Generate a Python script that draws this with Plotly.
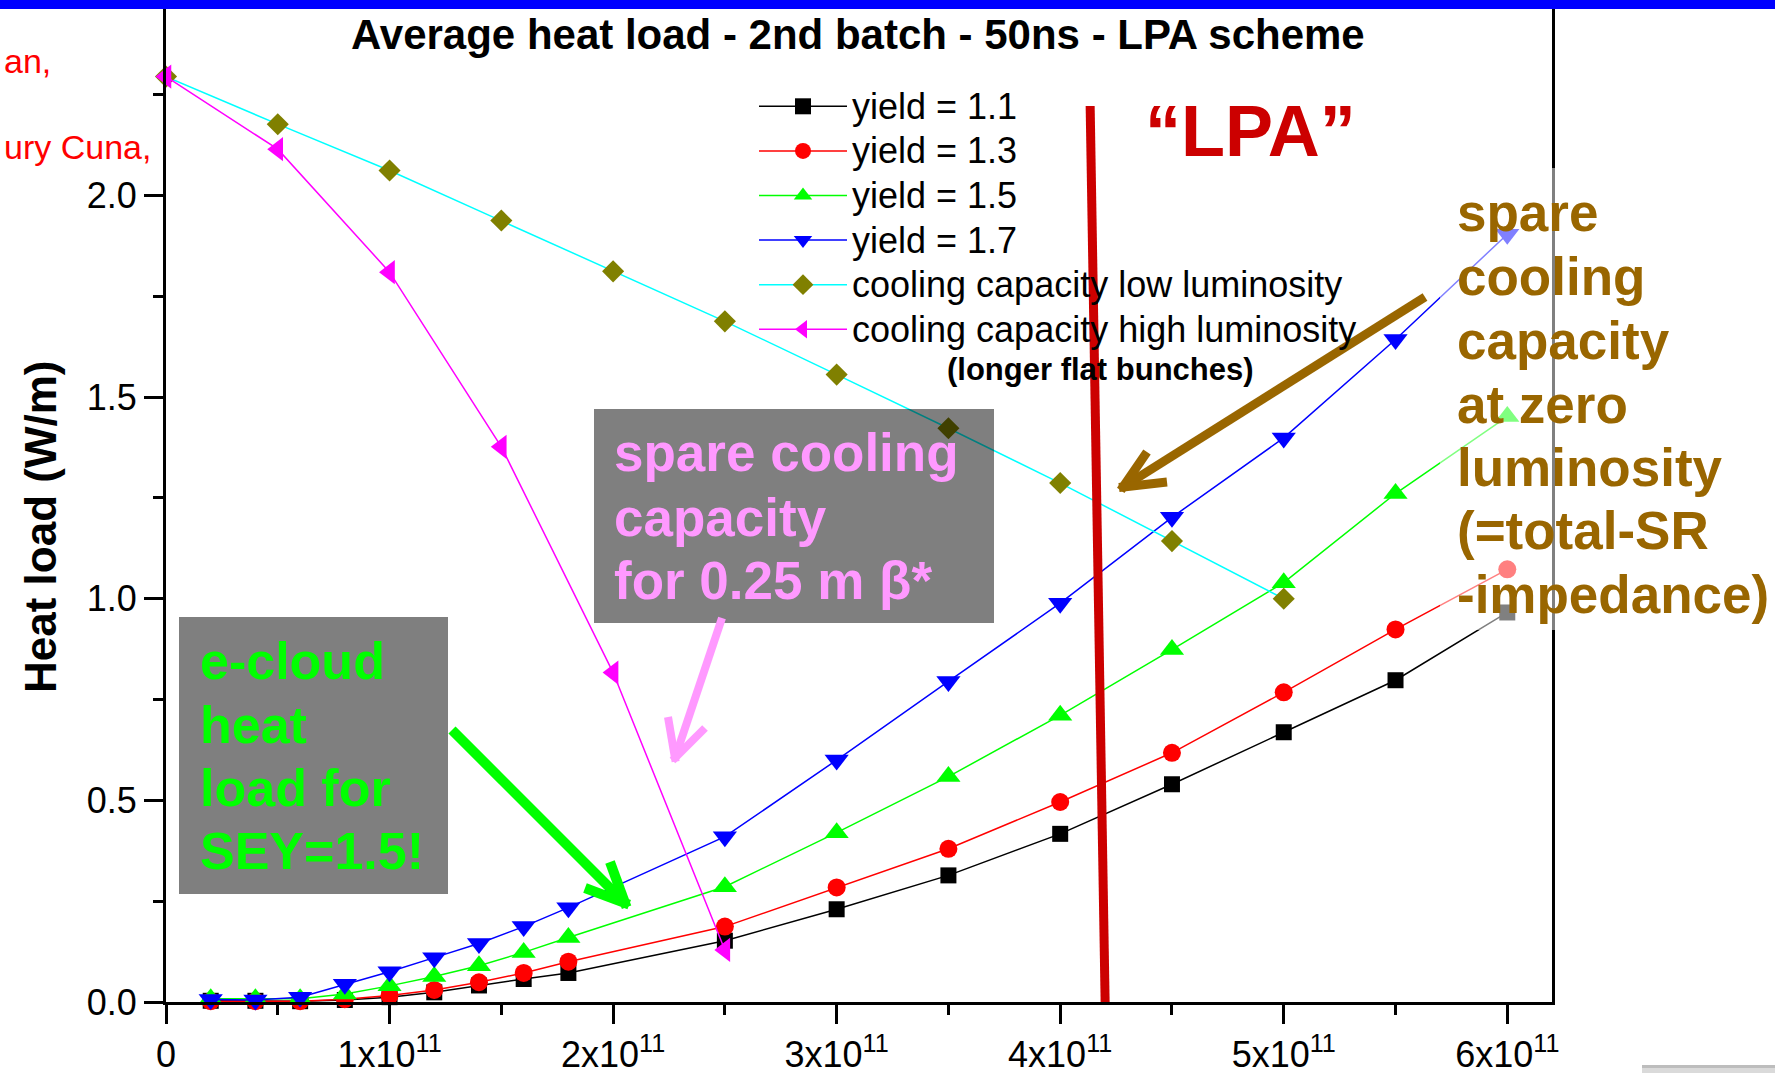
import plotly.graph_objects as go

# ---------------------------------------------------------------- data
# bunch intensity (protons per bunch) for the e-cloud simulations
bunch_intensity = [0.2e11, 0.4e11, 0.6e11, 0.8e11, 1.0e11, 1.2e11, 1.4e11, 1.6e11,
                   1.8e11, 2.5e11, 3.0e11, 3.5e11, 4.0e11, 4.5e11, 5.0e11, 5.5e11, 6.0e11]

# average heat load (W/m) for each secondary emission yield
heat_yield_11 = [0.003, 0.003, 0.002, 0.005, 0.012, 0.024, 0.041, 0.057, 0.072,
                 0.152, 0.230, 0.314, 0.417, 0.540, 0.669, 0.798, 0.966]
heat_yield_13 = [0.002, 0.002, 0.002, 0.007, 0.016, 0.030, 0.049, 0.072, 0.100,
                 0.187, 0.284, 0.380, 0.496, 0.618, 0.768, 0.924, 1.073]
heat_yield_15 = [0.008, 0.008, 0.008, 0.020, 0.040, 0.063, 0.090, 0.123, 0.160,
                 0.286, 0.420, 0.559, 0.711, 0.874, 1.040, 1.261, 1.452]
heat_yield_17 = [0.006, 0.005, 0.012, 0.044, 0.075, 0.110, 0.145, 0.187, 0.234,
                 0.410, 0.600, 0.795, 0.989, 1.202, 1.399, 1.643, 1.904]

# available cooling capacity (W/m)
cooling_intensity_low = [0.0, 0.5e11, 1.0e11, 1.5e11, 2.0e11, 2.5e11,
                         3.0e11, 3.5e11, 4.0e11, 4.5e11, 5.0e11]
cooling_low_lumi = [2.295, 2.177, 2.062, 1.938, 1.812, 1.688,
                    1.556, 1.423, 1.287, 1.143, 1.000]
cooling_intensity_high = [0.0, 0.5e11, 1.0e11, 1.5e11, 2.0e11, 2.5e11]
cooling_high_lumi = [2.295, 2.115, 1.810, 1.377, 0.817, 0.129]

# axis ticks
x_tick_vals = [0, 1e11, 2e11, 3e11, 4e11, 5e11, 6e11]
x_tick_text = ["0"] + [f"{k}x10<sup>11</sup>" for k in range(1, 7)]
x_minor_vals = [0.5e11, 1.5e11, 2.5e11, 3.5e11, 4.5e11, 5.5e11]
y_tick_vals = [0.0, 0.5, 1.0, 1.5, 2.0]
y_tick_text = ["0.0", "0.5", "1.0", "1.5", "2.0"]
y_minor_vals = [0.25, 0.75, 1.25, 1.75, 2.25]

# "LPA" operating point marker line (x in protons, y in W/m)
lpa_line_x = [4.134e11, 4.201e11]
lpa_line_y = [2.222, 0.0]

# ---------------------------------------------------------------- geometry
W, H = 1775, 1077
ML, MR, MT, MB = 166, 223, 2, 75
PW, PH = W - ML - MR, H - MT - MB
FONT = "Liberation Sans, Arial, sans-serif"


def xp(px):
    return (px - ML) / PW


def yp(py):
    return (H - MB - py) / PH


fig = go.Figure()

series = [
    ("yield = 1.1", bunch_intensity, heat_yield_11, "#000000", "#000000", "square", 16),
    ("yield = 1.3", bunch_intensity, heat_yield_13, "#FF0000", "#FF0000", "circle", 18),
    ("yield = 1.5", bunch_intensity, heat_yield_15, "#00FF00", "#00FF00", "triangle-up", 21),
    ("yield = 1.7", bunch_intensity, heat_yield_17, "#0000FF", "#0000FF", "triangle-down", 21),
    ("cooling capacity low luminosity", cooling_intensity_low, cooling_low_lumi,
     "#00FFFF", "#808000", "diamond", 17),
    ("cooling capacity high luminosity", cooling_intensity_high, cooling_high_lumi,
     "#FF00FF", "#FF00FF", "triangle-left", 21),
]
for name, xs, ys, lc, mc, sym, ms in series:
    fig.add_trace(go.Scatter(
        x=xs, y=ys, mode="lines+markers",
        name=f'<span style="font-size:36px">{name}</span>',
        line=dict(color=lc, width=1.5),
        marker=dict(symbol=sym, size=ms, color=mc, line=dict(width=0)),
        cliponaxis=False,
    ))

shapes = []
annotations = []


def rect(x0, y0, x1, y1, color, opacity=1.0):
    shapes.append(dict(type="rect", xref="paper", yref="paper",
                       x0=xp(x0), x1=xp(x1), y0=yp(y1), y1=yp(y0),
                       fillcolor=color, opacity=opacity, line=dict(width=0),
                       layer="above"))


def text(s, x, baseline, size, color, bold=False, anchor="left"):
    content = f"<b>{s}</b>" if bold else s
    annotations.append(dict(text=content, xref="paper", yref="paper",
                            x=xp(x), y=yp(baseline - 0.33 * size),
                            xanchor=anchor, yanchor="middle", showarrow=False,
                            font=dict(family=FONT, size=size, color=color)))


def segment(x0, y0, x1, y1, color, width):
    shapes.append(dict(type="line", xref="paper", yref="paper",
                       x0=xp(x0), y0=yp(y0), x1=xp(x1), y1=yp(y1),
                       line=dict(color=color, width=width), layer="above"))


def arrow(tail, tip, barbs, color, width):
    segment(tail[0], tail[1], tip[0], tip[1], color, width)
    for bx, by in barbs:
        dx, dy = tip[0] - bx, tip[1] - by
        n = (dx * dx + dy * dy) ** 0.5
        ex, ey = tip[0] + dx / n * width * 0.45, tip[1] + dy / n * width * 0.45
        segment(bx, by, ex, ey, color, width)


# blue header band
rect(-5, -8, W + 5, 9, "#0000FF")

# translucent dark boxes behind the call-outs
rect(179, 617, 448, 894, "#000000", 0.5)
rect(594, 409, 994, 623, "#000000", 0.5)
# translucent white panel behind the right-hand note
rect(1440, 168, W + 5, 630, "#FFFFFF", 0.5)

# small grey strip in the lower right corner
rect(1642, 1065, W + 5, 1068, "#BDBDBD")
rect(1642, 1068, W + 5, 1073, "#DADADA")

# title and axis title
text("Average heat load - 2nd batch - 50ns - LPA scheme", 858, 48, 42, "#000000",
     bold=True, anchor="center")
annotations.append(dict(text="<b>Heat load (W/m)</b>", xref="paper", yref="paper",
                        x=xp(40), y=yp(527), xanchor="center", yanchor="middle",
                        showarrow=False, textangle=-90,
                        font=dict(family=FONT, size=44, color="#000000")))

# author names at the left edge
text("an,", 2, 72, 34, "#FF0000")
text("ury Cuna,", 2, 158, 34, "#FF0000")

text("(longer flat bunches)", 1100, 380, 31, "#000000", bold=True, anchor="center")

# LPA marker line and label
shapes.append(dict(type="line", xref="x", yref="y",
                   x0=lpa_line_x[0], y0=lpa_line_y[0], x1=lpa_line_x[1], y1=lpa_line_y[1],
                   line=dict(color="#CC0000", width=9), layer="above"))
text("\u201cLPA\u201d", 1250, 155, 72, "#CC0000", bold=True, anchor="center")

# call-out texts
for s, b in zip(["e-cloud", "heat", "load for", "SEY=1.5!"], [678, 742, 805, 868]):
    text(s, 198, b, 52, "#00FF00", bold=True)
for s, b in zip(["spare cooling", "capacity", "for 0.25 m \u03b2*"], [470, 535, 598]):
    text(s, 612, b, 53, "#FF99FF", bold=True)
for s, b in zip(["spare", "cooling", "capacity", "at zero", "luminosity",
                 "(=total-SR", "-impedance)"],
                [230, 294, 358, 422, 485, 548, 612]):
    text(s, 1455, b, 53, "#996600", bold=True)

# call-out arrows
arrow((1425, 297), (1123, 487), [(1147, 452), (1167, 482)], "#996600", 9)
arrow((452, 730), (625, 903), [(610, 862), (585, 888)], "#00FF00", 10)
arrow((722, 618), (675, 758), [(668, 717), (705, 728)], "#FF99FF", 8)

axis_common = dict(showline=True, linecolor="#000000", linewidth=3, mirror=True,
                   ticks="outside", ticklen=19, tickwidth=3, tickcolor="#000000",
                   showgrid=False, zeroline=False,
                   tickfont=dict(family=FONT, size=36, color="#000000"))

fig.update_layout(
    width=W, height=H,
    margin=dict(l=ML, r=MR, t=MT, b=MB, autoexpand=False),
    paper_bgcolor="#FFFFFF", plot_bgcolor="#FFFFFF",
    font=dict(family=FONT, color="#000000"),
    xaxis=dict(range=[0, 6.2e11], tickmode="array", tickvals=x_tick_vals,
               ticktext=x_tick_text,
               minor=dict(tickmode="array", tickvals=x_minor_vals, ticks="outside",
                          ticklen=10, tickwidth=3, tickcolor="#000000"),
               **axis_common),
    yaxis=dict(range=[0, 2.48], tickmode="array", tickvals=y_tick_vals,
               ticktext=y_tick_text,
               minor=dict(tickmode="array", tickvals=y_minor_vals, ticks="outside",
                          ticklen=10, tickwidth=3, tickcolor="#000000"),
               **axis_common),
    showlegend=True,
    legend=dict(x=xp(754), y=yp(79), xanchor="left", yanchor="top",
                bgcolor="rgba(0,0,0,0)", borderwidth=0, itemwidth=88,
                font=dict(family=FONT, size=32, color="#000000"),
                tracegroupgap=0),
    shapes=shapes,
    annotations=annotations,
)

fig.write_html("out.html")
